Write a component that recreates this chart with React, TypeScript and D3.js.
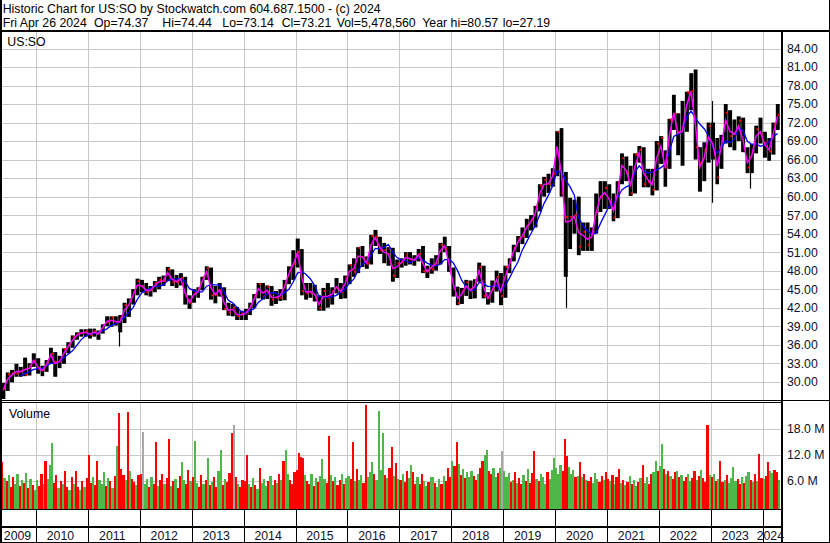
import React from "react";
import * as d3 from "d3";

const W = 830;
const H = 543;

// ---------- monthly price data, May 2009 .. Apr 2024 ----------
const priceHigh = [
  // 2009 May-Dec
  29.8, 31.5, 31.9, 32.9, 32.4, 33.9, 33.0, 34.6,
  // 2010
  33.8, 32.6, 33.5, 35.5, 34.8, 34.2, 35.4, 36.4, 37.5, 38.0, 38.5, 38.5,
  // 2011
  38.6, 38.6, 38.3, 39.3, 40.6, 40.6, 40.6, 40.8, 42.8, 43.5, 45.0, 46.7,
  // 2012
  46.5, 46.0, 45.5, 46.3, 47.0, 47.2, 48.6, 48.2, 47.3, 47.6, 47.0, 44.0,
  // 2013
  45.0, 45.3, 47.0, 48.7, 48.5, 45.5, 46.0, 45.3, 42.8, 42.6, 42.1, 41.5,
  // 2014
  41.8, 42.8, 44.2, 46.0, 46.0, 45.6, 45.5, 44.7, 45.0, 46.5, 48.7, 51.3,
  // 2015
  53.2, 51.5, 46.0, 46.0, 45.7, 44.0, 45.2, 46.0, 45.3, 46.8, 46.0, 47.2,
  // 2016
  49.0, 50.0, 51.8, 52.0, 50.3, 53.8, 54.6, 53.5, 52.5, 51.8, 51.7, 49.8,
  // 2017
  50.0, 51.0, 51.0, 50.5, 51.5, 52.0, 48.8, 50.0, 50.5, 52.5, 53.5, 52.0,
  // 2018
  48.5, 45.4, 45.2, 46.5, 46.4, 46.6, 49.3, 48.8, 44.5, 46.4, 48.0, 47.6,
  // 2019
  48.8, 50.0, 52.2, 53.6, 55.0, 56.4, 57.0, 58.5, 62.0, 63.2, 63.7, 64.6,
  // 2020
  70.6, 71.1, 64.0, 59.8, 59.5, 60.0, 55.8, 55.8, 55.0, 60.5, 62.5, 62.5,
  // 2021
  62.0, 60.5, 62.5, 67.0, 66.5, 65.0, 67.0, 68.2, 68.0, 64.5, 64.5, 69.0,
  // 2022
  69.8, 67.5, 72.6, 76.5, 73.5, 75.5, 77.0, 80.0, 80.6, 68.0, 68.8, 72.0,
  // 2023
  72.0, 69.5, 70.0, 75.0, 74.0, 72.5, 73.0, 72.8, 68.0, 68.5, 71.5, 72.8,
  // 2024 Jan-Apr
  70.5, 69.5, 72.0, 75.0,
];

const priceLow = [
  27.2, 28.5, 29.9, 30.8, 30.8, 30.9, 31.0, 32.4,
  31.3, 30.9, 31.6, 33.0, 30.8, 32.2, 32.9, 34.6, 35.5, 36.8, 37.3, 37.3,
  37.0, 37.3, 36.8, 37.8, 39.0, 38.9, 39.1, 38.0, 39.5, 40.5, 42.5, 44.0,
  44.5, 44.0, 43.8, 44.5, 45.0, 45.5, 46.3, 45.5, 45.2, 45.6, 42.5, 41.8,
  42.8, 43.6, 44.8, 46.5, 43.3, 42.7, 43.8, 41.6, 40.7, 40.6, 40.0, 40.0,
  40.0, 40.8, 41.9, 43.5, 43.3, 43.4, 42.3, 42.6, 43.1, 43.2, 45.8, 46.5,
  48.5, 44.0, 43.3, 43.6, 43.0, 41.5, 41.5, 42.0, 42.5, 44.3, 43.4, 43.5,
  45.8, 47.0, 47.6, 48.6, 48.3, 49.0, 52.0, 50.7, 49.2, 48.8, 46.2, 46.8,
  48.5, 48.8, 49.0, 48.8, 49.5, 47.6, 46.8, 47.5, 48.0, 49.0, 51.0, 47.8,
  43.8, 42.4, 42.6, 43.9, 43.4, 43.5, 46.2, 43.5, 42.5, 42.8, 44.6, 42.4,
  43.6, 47.6, 49.5, 51.0, 52.3, 53.3, 54.5, 55.0, 57.6, 60.0, 60.6, 61.6,
  63.3, 60.0, 47.0, 51.5, 54.0, 50.5, 51.2, 51.2, 51.2, 54.0, 57.5, 58.0,
  58.0, 56.0, 56.5, 62.0, 62.5, 60.1, 60.5, 65.5, 61.5, 61.5, 60.2, 61.0,
  65.3, 61.6, 64.5, 70.8, 66.7, 65.0, 70.5, 74.0, 66.0, 60.8, 62.5, 65.5,
  66.0, 62.0, 64.5, 68.6, 68.0, 67.5, 69.0, 67.2, 63.8, 63.8, 67.0, 68.6,
  66.3, 65.8, 66.8, 70.8,
];

const priceClose = [
  28.9, 31.2, 31.4, 31.3, 31.7, 31.1, 32.5, 33.3,
  32.0, 31.9, 33.2, 34.5, 33.2, 33.3, 35.3, 36.0, 37.2, 37.7, 37.9, 38.2,
  37.6, 38.2, 38.1, 39.2, 39.7, 40.4, 39.6, 40.3, 42.4, 43.2, 44.5, 46.3,
  45.5, 44.5, 44.9, 46.0, 46.5, 46.3, 48.2, 46.1, 46.1, 46.8, 43.8, 42.8,
  44.3, 45.0, 46.9, 48.4, 44.0, 44.1, 44.8, 41.8, 41.2, 42.0, 40.6, 41.1,
  41.3, 42.3, 43.9, 45.8, 43.8, 45.4, 43.3, 43.6, 43.6, 46.3, 48.0, 49.1,
  51.0, 44.7, 44.3, 44.3, 43.8, 41.9, 44.7, 43.6, 44.7, 45.1, 44.5, 46.8,
  48.9, 47.8, 51.7, 50.1, 49.1, 53.6, 53.5, 51.3, 51.3, 51.6, 47.2, 49.2,
  49.4, 50.6, 49.8, 49.8, 50.7, 47.9, 47.9, 48.2, 49.1, 52.2, 51.6, 48.1,
  45.2, 42.7, 44.7, 46.1, 44.7, 46.3, 48.6, 43.9, 43.6, 45.0, 47.0, 43.9,
  48.6, 49.6, 51.7, 53.2, 53.5, 55.3, 56.2, 58.3, 61.8, 62.7, 62.0, 63.7,
  70.5, 60.5, 56.7, 56.7, 57.0, 51.9, 54.3, 52.2, 54.2, 57.5, 59.9, 61.4,
  59.0, 56.6, 62.2, 66.2, 63.9, 60.5, 66.8, 67.6, 62.0, 62.3, 61.1, 68.6,
  69.5, 64.7, 72.5, 73.4, 70.5, 71.3, 76.9, 77.1, 68.0, 65.5, 67.5, 71.4,
  67.7, 63.1, 69.6, 73.6, 69.8, 70.2, 72.3, 67.8, 64.7, 67.3, 70.9, 70.1,
  68.7, 67.3, 71.7, 73.2,
];

// single-week wicks
const spikeDates = ["2011-08-08", "2020-03-16", "2023-01-06", "2023-10-06"];
const spikeHigh = [39.8, 55.0, 75.5, 66.0];
const spikeLow = [35.7, 41.96, 59.0, 61.3];

// ---------- half-monthly volume (millions) ----------
const vol2009 = [10.3, 6.5, 5.8, 7.2, 4.6, 6.8, 5.2, 7.5, 4.8, 6.1, 5.5, 7.8, 4.2, 6.3, 5.0, 3.8];
const col2009 = "rgrgrrggrgrgrgrg";
const vol2010 = [6.2, 4.8, 7.5, 5.1, 10.6, 6.3, 9.6, 14.6, 5.5, 7.2, 4.3, 6.0, 5.2, 8.1, 4.6, 3.9, 6.8, 5.3, 8.3, 4.5, 3.7, 5.9, 4.4, 6.6];
const col2010 = "grrgrgggrrgrgrrgrgrrgrgr";
const vol2011 = [11.9, 5.4, 6.8, 4.9, 10.6, 6.2, 5.3, 8.0, 4.7, 6.5, 5.8, 4.2, 7.1, 14.0, 21.5, 8.6, 7.3, 6.1, 21.9, 8.2, 6.4, 5.6, 4.9, 7.3];
const col2011 = "rrgrrgggrgrgrgrrrgrgrrgr";
const vol2012 = [7.4, 17.1, 5.2, 6.3, 4.5, 6.8, 5.1, 15.0, 4.8, 6.2, 7.5, 5.3, 6.6, 15.6, 4.7, 5.9, 6.4, 4.3, 7.0, 10.3, 6.1, 5.2, 8.4, 5.8];
const col2012 = "ryggrgrrgrrgrrgrgrrggrrg";
const vol2013 = [6.8, 15.2, 5.4, 4.6, 7.3, 5.1, 6.2, 11.3, 4.9, 5.6, 6.7, 4.4, 8.2, 13.1, 5.0, 6.4, 5.7, 7.8, 17.0, 18.8, 6.9, 5.3, 4.6, 6.1];
const col2013 = "rggrrgrgrgrrggrgrrryrgrr";
const vol2014 = [6.0, 11.9, 5.2, 4.4, 6.6, 5.0, 4.1, 8.8, 5.4, 6.3, 4.7, 5.8, 7.0, 4.9, 6.2, 5.5, 7.4, 6.1, 10.5, 13.1, 7.6, 6.2, 5.1, 8.0];
const col2014 = "rrgrgrgrgggrggrgrgrggrrr";
const vol2015 = [8.5, 12.4, 11.5, 11.2, 7.3, 6.0, 5.1, 7.6, 4.8, 6.5, 5.7, 7.1, 11.0, 6.3, 5.4, 16.2, 7.2, 5.9, 6.8, 4.9, 6.1, 7.4, 5.3, 6.6];
const col2015 = "rrrrgrrgrgrgggrrgrgrrgrg";
const vol2016 = [7.1, 6.4, 15.0, 5.8, 8.6, 6.2, 7.3, 5.5, 23.4, 6.8, 8.0, 10.3, 7.5, 6.1, 22.1, 8.4, 16.9, 7.2, 6.5, 8.8, 13.8, 7.0, 10.0, 6.3];
const col2016 = "grrgrggrrgggrggggrgrrgrg";
const vol2017 = [6.2, 7.4, 5.6, 8.1, 6.5, 9.6, 7.9, 5.3, 6.8, 5.1, 7.6, 6.0, 4.8, 5.7, 6.9, 6.9, 5.5, 4.6, 6.4, 5.2, 7.0, 5.9, 8.9, 6.7];
const col2017 = "rgrrggrrgrrggrggrggrgrrr";
const vol2018 = [10.5, 9.4, 14.8, 9.8, 7.2, 8.6, 6.5, 7.9, 6.8, 8.3, 7.0, 6.1, 7.4, 8.8, 10.5, 12.0, 13.1, 8.2, 7.6, 9.0, 6.7, 7.8, 8.9, 12.7];
const col2018 = "grrgrgrgggrrgrrggrrggrgy";
const vol2019 = [8.3, 6.9, 7.8, 5.6, 6.2, 8.0, 5.4, 6.6, 5.1, 7.2, 6.0, 8.6, 5.5, 7.7, 12.8, 6.3, 5.8, 7.4, 6.8, 5.2, 7.9, 6.4, 8.4, 11.3];
const col2019 = "gggrgrgrrgrgrrrgrgggrggg";
const vol2020 = [8.8, 7.5, 9.6, 8.2, 15.6, 11.6, 9.2, 7.4, 8.5, 6.9, 7.1, 10.3, 6.8, 7.5, 6.1, 5.8, 6.9, 5.4, 7.7, 6.3, 5.6, 7.0, 6.2, 8.0];
const col2020 = "gggrrrgggrgrgrgrrgggrrgr";
const vol2021 = [6.3, 5.8, 7.2, 5.1, 6.7, 8.6, 5.4, 6.2, 4.9, 5.6, 7.0, 5.3, 6.1, 4.8, 5.7, 6.6, 9.6, 5.5, 6.9, 5.2, 7.4, 8.0, 10.6, 8.3];
const col2021 = "rgrgrrgrgrgrggrgrggrrggr";
const vol2022 = [9.3, 14.4, 8.6, 7.5, 8.2, 7.1, 6.4, 7.9, 8.3, 6.8, 7.2, 5.9, 6.7, 7.6, 5.8, 6.5, 8.1, 6.2, 7.0, 8.4, 6.6, 5.7, 18.7, 7.3];
const col2022 = "ggrgrgrrgrgrrggrrgrgrrrg";
const vol2023 = [6.8, 7.5, 5.9, 6.3, 10.5, 5.6, 6.1, 7.2, 5.4, 6.6, 9.2, 5.8, 6.4, 5.1, 6.9, 5.5, 7.0, 8.0, 6.2, 5.7, 7.4, 6.0, 12.1, 6.5];
const col2023 = "rgrgrrgrggggrrgrggrgrgrr";
const vol2024 = [6.4, 7.1, 10.3, 8.2, 7.8, 8.4, 8.0, 6.2];
const col2024 = "grrggrrg";

// ---------- ticks & labels ----------
const priceTicks = [30, 33, 36, 39, 42, 45, 48, 51, 54, 57, 60, 63, 66, 69, 72, 75, 78, 81, 84];
const volTicks = [6, 12, 18];
const years = [2009, 2010, 2011, 2012, 2013, 2014, 2015, 2016, 2017, 2018, 2019, 2020, 2021, 2022, 2023, 2024];
const titleLine = "Historic Chart for US:SO by Stockwatch.com 604.687.1500 - (c) 2024";
const infoParts = ["Fri Apr 26 2024", "Op=74.37", "Hi=74.44", "Lo=73.14", "Cl=73.21", "Vol=5,478,560", "Year hi=80.57", "lo=27.19"];
const infoX = [2.7, 94, 162.3, 222.3, 281.7, 336.7, 422.3, 502.7];

const volTable: [number, number, number[], string][] = [
  [2009, 4, vol2009, col2009], [2010, 0, vol2010, col2010], [2011, 0, vol2011, col2011],
  [2012, 0, vol2012, col2012], [2013, 0, vol2013, col2013], [2014, 0, vol2014, col2014],
  [2015, 0, vol2015, col2015], [2016, 0, vol2016, col2016], [2017, 0, vol2017, col2017],
  [2018, 0, vol2018, col2018], [2019, 0, vol2019, col2019], [2020, 0, vol2020, col2020],
  [2021, 0, vol2021, col2021], [2022, 0, vol2022, col2022], [2023, 0, vol2023, col2023],
  [2024, 0, vol2024, col2024],
];

const colorMap: Record<string, string> = { r: "#ff0000", g: "#4db848", y: "#a8a8a8" };

const LEFT = 2;
const RIGHT = 781;
const P_TOP = 32;
const P_BOT = 399;
const V_TOP = 403;
const V_BOT = 509;
const FONT = '"Liberation Sans", Arial, sans-serif';
const FS = 12.3;

export default function App() {
  const x = d3.scaleTime().domain([new Date(2010, 0, 1), new Date(2024, 0, 1)]).range([36, 762.7]);
  const y = d3.scaleLinear().domain([30, 84]).range([381.7, 48.5]);
  const yv = d3.scaleLinear().domain([0, 18]).range([506.5, 428.5]);

  const months = priceClose.map((_, i) => ({
    x0: x(new Date(2009, 4 + i, 1)),
    x1: x(new Date(2009, 5 + i, 1)),
    xm: x(new Date(2009, 4 + i, 15)),
    hi: priceHigh[i],
    lo: priceLow[i],
    cl: priceClose[i],
  }));

  const typical = months.map((m) => [m.xm, (m.hi + m.lo + m.cl) / 3] as [number, number]);
  const slow: [number, number][] = [];
  months.forEach((m, i) => {
    if (i < 4) return;
    const w = priceClose.slice(i - 4, i + 1);
    slow.push([m.xm, d3.mean(w) as number]);
  });
  const line = d3.line<[number, number]>().x((d) => d[0]).y((d) => y(d[1]));

  const volBars: { x0: number; x1: number; v: number; c: string }[] = [];
  volTable.forEach(([yr, m0, vals, cols]) => {
    vals.forEach((v, j) => {
      const mon = m0 + Math.floor(j / 2);
      const half = j % 2;
      const d0 = new Date(yr, mon, half ? 16 : 1);
      const d1 = half ? new Date(yr, mon + 1, 1) : new Date(yr, mon, 16);
      volBars.push({ x0: x(d0), x1: x(d1), v, c: colorMap[cols[j]] });
    });
  });

  const yearBounds = years.slice(1).map((yr) => x(new Date(yr, 0, 1)));
  const cellEdges = [LEFT, ...yearBounds, RIGHT];

  return (
    <div style={{ position: "absolute", left: 0, top: 0, width: W, height: H }}>
      <svg width={W} height={H} style={{ display: "block", fontFamily: FONT }}>
        <defs>
          <clipPath id="pclip"><rect x={LEFT} y={P_TOP} width={RIGHT - LEFT} height={P_BOT - P_TOP} /></clipPath>
          <clipPath id="vclip"><rect x={LEFT} y={V_TOP} width={RIGHT - LEFT} height={V_BOT - V_TOP} /></clipPath>
        </defs>
        <rect x={0} y={0} width={W} height={H} fill="#ffffff" />

        {/* gridlines */}
        <g stroke="#c8c8c8" strokeWidth={1} shapeRendering="crispEdges">
          {priceTicks.map((t) => (
            <line key={"ph" + t} x1={LEFT} x2={RIGHT} y1={Math.round(y(t)) + 0.5} y2={Math.round(y(t)) + 0.5} />
          ))}
          {volTicks.map((t) => (
            <line key={"vh" + t} x1={LEFT} x2={RIGHT} y1={Math.round(yv(t)) + 0.5} y2={Math.round(yv(t)) + 0.5} />
          ))}
          {yearBounds.map((bx, i) => (
            <g key={"vg" + i}>
              <line x1={Math.round(bx) + 0.5} x2={Math.round(bx) + 0.5} y1={P_TOP} y2={P_BOT + 0.5} />
              <line x1={Math.round(bx) + 0.5} x2={Math.round(bx) + 0.5} y1={V_TOP} y2={V_BOT} />
            </g>
          ))}
        </g>

        {/* volume */}
        <g clipPath="url(#vclip)" shapeRendering="crispEdges">
          {volBars.map((b, i) => (
            <rect key={"v" + i} x={b.x0} y={yv(b.v)} width={b.x1 - b.x0} height={V_BOT - yv(b.v)} fill={b.c} />
          ))}
        </g>

        {/* price bars */}
        <g clipPath="url(#pclip)">
          {months.map((m, i) => (
            <rect key={"b" + i} x={m.x0 + 0.2} y={y(m.hi)} width={m.x1 - m.x0 - 0.4} height={y(m.lo) - y(m.hi)} fill="#000" />
          ))}
          {spikeDates.map((d, i) => {
            const sx = Math.round(x(new Date(d))) + 0.5;
            return <line key={"s" + i} x1={sx} x2={sx} y1={y(spikeHigh[i])} y2={y(spikeLow[i])} stroke="#000" strokeWidth={1.2} />;
          })}
          {months.map((m, i) => (
            <rect key={"c" + i} x={m.x1 - 2} y={y(m.cl) - 1} width={2} height={2} fill="#ff0000" />
          ))}
          <path d={line(slow) || ""} fill="none" stroke="#0000ff" strokeWidth={1.3} />
          <path d={line(typical) || ""} fill="none" stroke="#ff00ff" strokeWidth={1.5} />
        </g>

        {/* frame lines */}
        <g fill="#000" shapeRendering="crispEdges">
          <rect x={0} y={0} width={2} height={H} />
          <rect x={829} y={0} width={1} height={H} />
          <rect x={0} y={30} width={W} height={2} />
          <rect x={RIGHT} y={31} width={2} height={H - 31} />
          <rect x={0} y={400} width={RIGHT} height={1} />
          <rect x={0} y={402} width={RIGHT} height={1} />
          <rect x={RIGHT} y={400} width={W - RIGHT} height={1} />
          <rect x={0} y={509} width={RIGHT} height={1} />
          <rect x={0} y={526} width={RIGHT} height={2} />
          <rect x={0} y={542} width={W} height={1} />
          {yearBounds.map((bx, i) => (
            <rect key={"yb" + i} x={Math.round(bx)} y={509} width={1} height={H - 509} />
          ))}
        </g>

        {/* texts */}
        <g fontSize={FS} fill="#000">
          <text x={2.7} y={12.5}>{titleLine}</text>
          {infoParts.map((t, i) => (
            <text key={"i" + i} x={infoX[i]} y={26.5}>{t}</text>
          ))}
          <text x={7.3} y={46}>US:SO</text>
          <text x={9} y={417.5}>Volume</text>
        </g>
        <g fontSize={FS} fill="#10102a">
          {priceTicks.map((t) => (
            <text key={"pt" + t} x={787} y={y(t) + 4.4}>{t.toFixed(2)}</text>
          ))}
          {volTicks.map((t) => (
            <text key={"vt" + t} x={787} y={yv(t) + 4.4}>{t.toFixed(1) + " M"}</text>
          ))}
          {years.map((yr, i) => (
            <text key={"yr" + yr} x={(cellEdges[i] + cellEdges[i + 1]) / 2 - 1.5} y={539.5} textAnchor="middle">{yr}</text>
          ))}
        </g>
      </svg>
    </div>
  );
}
